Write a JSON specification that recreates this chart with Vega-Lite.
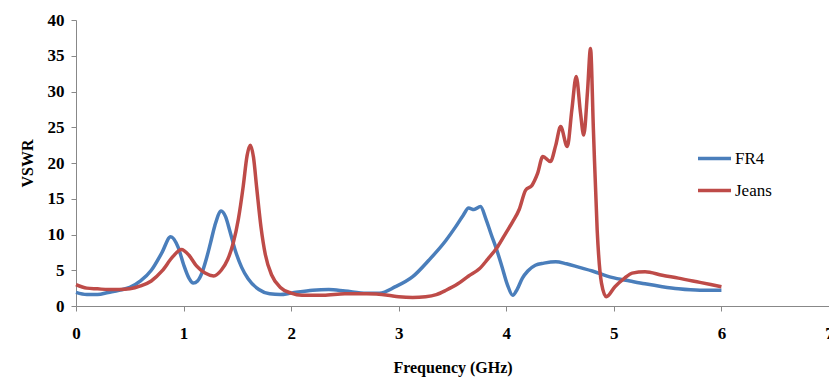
{
  "$schema": "https://vega.github.io/schema/vega-lite/v6.json",
  "autosize": {"type": "none"},
  "padding": {"left": 76, "top": 20, "right": 0, "bottom": 75},
  "width": 753,
  "height": 286,
  "background": "white",
  "config": {"view": {"stroke": null}, "font": "Liberation Serif"},
  "data": {"values": [
    {"f": 0.0, "v": 1.9, "s": "FR4"},
    {"f": 0.1, "v": 1.6, "s": "FR4"},
    {"f": 0.2, "v": 1.6, "s": "FR4"},
    {"f": 0.3, "v": 1.9, "s": "FR4"},
    {"f": 0.4, "v": 2.2, "s": "FR4"},
    {"f": 0.5, "v": 2.6, "s": "FR4"},
    {"f": 0.6, "v": 3.5, "s": "FR4"},
    {"f": 0.7, "v": 5.0, "s": "FR4"},
    {"f": 0.8, "v": 7.5, "s": "FR4"},
    {"f": 0.88, "v": 9.7, "s": "FR4"},
    {"f": 0.95, "v": 8.2, "s": "FR4"},
    {"f": 1.0, "v": 5.8, "s": "FR4"},
    {"f": 1.05, "v": 3.9, "s": "FR4"},
    {"f": 1.09, "v": 3.2, "s": "FR4"},
    {"f": 1.13, "v": 3.5, "s": "FR4"},
    {"f": 1.17, "v": 4.6, "s": "FR4"},
    {"f": 1.21, "v": 6.5, "s": "FR4"},
    {"f": 1.25, "v": 8.8, "s": "FR4"},
    {"f": 1.29, "v": 11.2, "s": "FR4"},
    {"f": 1.35, "v": 13.3, "s": "FR4"},
    {"f": 1.39, "v": 12.5, "s": "FR4"},
    {"f": 1.43, "v": 10.5, "s": "FR4"},
    {"f": 1.48, "v": 7.8, "s": "FR4"},
    {"f": 1.54, "v": 5.4, "s": "FR4"},
    {"f": 1.6, "v": 3.8, "s": "FR4"},
    {"f": 1.7, "v": 2.3, "s": "FR4"},
    {"f": 1.8, "v": 1.7, "s": "FR4"},
    {"f": 1.9, "v": 1.6, "s": "FR4"},
    {"f": 2.0, "v": 1.8, "s": "FR4"},
    {"f": 2.2, "v": 2.2, "s": "FR4"},
    {"f": 2.35, "v": 2.3, "s": "FR4"},
    {"f": 2.5, "v": 2.1, "s": "FR4"},
    {"f": 2.7, "v": 1.8, "s": "FR4"},
    {"f": 2.82, "v": 1.8, "s": "FR4"},
    {"f": 2.97, "v": 2.7, "s": "FR4"},
    {"f": 3.13, "v": 4.1, "s": "FR4"},
    {"f": 3.28, "v": 6.4, "s": "FR4"},
    {"f": 3.44, "v": 9.2, "s": "FR4"},
    {"f": 3.53, "v": 11.1, "s": "FR4"},
    {"f": 3.6, "v": 12.7, "s": "FR4"},
    {"f": 3.65, "v": 13.7, "s": "FR4"},
    {"f": 3.7, "v": 13.5, "s": "FR4"},
    {"f": 3.76, "v": 13.9, "s": "FR4"},
    {"f": 3.81, "v": 12.2, "s": "FR4"},
    {"f": 3.86, "v": 10.0, "s": "FR4"},
    {"f": 3.91, "v": 7.9, "s": "FR4"},
    {"f": 3.96, "v": 5.5, "s": "FR4"},
    {"f": 4.01, "v": 3.0, "s": "FR4"},
    {"f": 4.06, "v": 1.5, "s": "FR4"},
    {"f": 4.1, "v": 2.3, "s": "FR4"},
    {"f": 4.15, "v": 3.9, "s": "FR4"},
    {"f": 4.2, "v": 4.9, "s": "FR4"},
    {"f": 4.27, "v": 5.7, "s": "FR4"},
    {"f": 4.35, "v": 6.0, "s": "FR4"},
    {"f": 4.46, "v": 6.2, "s": "FR4"},
    {"f": 4.56, "v": 5.9, "s": "FR4"},
    {"f": 4.68, "v": 5.4, "s": "FR4"},
    {"f": 4.8, "v": 4.9, "s": "FR4"},
    {"f": 4.98, "v": 4.0, "s": "FR4"},
    {"f": 5.15, "v": 3.5, "s": "FR4"},
    {"f": 5.29, "v": 3.1, "s": "FR4"},
    {"f": 5.45, "v": 2.7, "s": "FR4"},
    {"f": 5.6, "v": 2.4, "s": "FR4"},
    {"f": 5.8, "v": 2.2, "s": "FR4"},
    {"f": 6.0, "v": 2.2, "s": "FR4"},
    {"f": 0.0, "v": 3.0, "s": "Jeans"},
    {"f": 0.1, "v": 2.5, "s": "Jeans"},
    {"f": 0.2, "v": 2.4, "s": "Jeans"},
    {"f": 0.3, "v": 2.3, "s": "Jeans"},
    {"f": 0.4, "v": 2.3, "s": "Jeans"},
    {"f": 0.5, "v": 2.4, "s": "Jeans"},
    {"f": 0.6, "v": 2.8, "s": "Jeans"},
    {"f": 0.7, "v": 3.5, "s": "Jeans"},
    {"f": 0.8, "v": 4.9, "s": "Jeans"},
    {"f": 0.9, "v": 6.9, "s": "Jeans"},
    {"f": 0.98, "v": 7.9, "s": "Jeans"},
    {"f": 1.05, "v": 7.1, "s": "Jeans"},
    {"f": 1.12, "v": 5.6, "s": "Jeans"},
    {"f": 1.2, "v": 4.6, "s": "Jeans"},
    {"f": 1.28, "v": 4.2, "s": "Jeans"},
    {"f": 1.35, "v": 5.0, "s": "Jeans"},
    {"f": 1.41, "v": 6.5, "s": "Jeans"},
    {"f": 1.46, "v": 8.7, "s": "Jeans"},
    {"f": 1.51, "v": 12.2, "s": "Jeans"},
    {"f": 1.555, "v": 16.8, "s": "Jeans"},
    {"f": 1.59, "v": 21.0, "s": "Jeans"},
    {"f": 1.62, "v": 22.5, "s": "Jeans"},
    {"f": 1.65, "v": 20.8, "s": "Jeans"},
    {"f": 1.68, "v": 16.5, "s": "Jeans"},
    {"f": 1.72, "v": 11.0, "s": "Jeans"},
    {"f": 1.76, "v": 7.2, "s": "Jeans"},
    {"f": 1.82, "v": 4.3, "s": "Jeans"},
    {"f": 1.9, "v": 2.6, "s": "Jeans"},
    {"f": 2.0, "v": 1.8, "s": "Jeans"},
    {"f": 2.1, "v": 1.5, "s": "Jeans"},
    {"f": 2.3, "v": 1.5, "s": "Jeans"},
    {"f": 2.5, "v": 1.7, "s": "Jeans"},
    {"f": 2.7, "v": 1.7, "s": "Jeans"},
    {"f": 2.9, "v": 1.5, "s": "Jeans"},
    {"f": 3.0, "v": 1.3, "s": "Jeans"},
    {"f": 3.13, "v": 1.2, "s": "Jeans"},
    {"f": 3.25, "v": 1.3, "s": "Jeans"},
    {"f": 3.35, "v": 1.6, "s": "Jeans"},
    {"f": 3.44, "v": 2.2, "s": "Jeans"},
    {"f": 3.55, "v": 3.1, "s": "Jeans"},
    {"f": 3.65, "v": 4.2, "s": "Jeans"},
    {"f": 3.75, "v": 5.2, "s": "Jeans"},
    {"f": 3.83, "v": 6.6, "s": "Jeans"},
    {"f": 3.92, "v": 8.3, "s": "Jeans"},
    {"f": 4.0, "v": 10.3, "s": "Jeans"},
    {"f": 4.06, "v": 11.8, "s": "Jeans"},
    {"f": 4.12, "v": 13.5, "s": "Jeans"},
    {"f": 4.18, "v": 16.2, "s": "Jeans"},
    {"f": 4.24, "v": 16.9, "s": "Jeans"},
    {"f": 4.29, "v": 18.5, "s": "Jeans"},
    {"f": 4.34, "v": 20.9, "s": "Jeans"},
    {"f": 4.41, "v": 20.2, "s": "Jeans"},
    {"f": 4.46, "v": 22.5, "s": "Jeans"},
    {"f": 4.505, "v": 25.1, "s": "Jeans"},
    {"f": 4.567, "v": 22.3, "s": "Jeans"},
    {"f": 4.61, "v": 27.5, "s": "Jeans"},
    {"f": 4.65, "v": 32.1, "s": "Jeans"},
    {"f": 4.69, "v": 27.0, "s": "Jeans"},
    {"f": 4.72, "v": 23.9, "s": "Jeans"},
    {"f": 4.755, "v": 30.0, "s": "Jeans"},
    {"f": 4.783, "v": 36.0, "s": "Jeans"},
    {"f": 4.81, "v": 24.6, "s": "Jeans"},
    {"f": 4.845, "v": 10.6, "s": "Jeans"},
    {"f": 4.885, "v": 3.2, "s": "Jeans"},
    {"f": 4.93, "v": 1.3, "s": "Jeans"},
    {"f": 5.01, "v": 2.7, "s": "Jeans"},
    {"f": 5.1, "v": 3.9, "s": "Jeans"},
    {"f": 5.17, "v": 4.6, "s": "Jeans"},
    {"f": 5.29, "v": 4.8, "s": "Jeans"},
    {"f": 5.45, "v": 4.3, "s": "Jeans"},
    {"f": 5.6, "v": 3.9, "s": "Jeans"},
    {"f": 5.8, "v": 3.3, "s": "Jeans"},
    {"f": 6.0, "v": 2.7, "s": "Jeans"}
  ]},
  "mark": {"type": "line", "strokeWidth": 3.5, "interpolate": "monotone"},
  "encoding": {
    "x": {
      "field": "f", "type": "quantitative",
      "scale": {"domain": [0, 7], "nice": false},
      "axis": {
        "title": "Frequency (GHz)", "values": [0,1,2,3,4,5,6,7], "format": "d",
        "grid": false, "domainColor": "#888888", "tickColor": "#888888", "tickSize": 5,
        "labelFont": "Liberation Serif", "labelFontSize": 17, "labelFontWeight": "bold", "labelColor": "#000000",
        "labelPadding": 14, "labelFlush": false, "labelOverlap": false,
        "titleFont": "Liberation Serif", "titleFontSize": 16, "titleFontWeight": "bold", "titleColor": "#000000",
        "titlePadding": 18
      }
    },
    "y": {
      "field": "v", "type": "quantitative",
      "scale": {"domain": [0, 40], "nice": false},
      "axis": {
        "title": "VSWR", "values": [0,5,10,15,20,25,30,35,40],
        "grid": false, "domainColor": "#888888", "tickColor": "#888888", "tickSize": 5,
        "labelFont": "Liberation Serif", "labelFontSize": 17, "labelFontWeight": "bold", "labelColor": "#000000",
        "labelPadding": 7,
        "titleFont": "Liberation Serif", "titleFontSize": 16, "titleFontWeight": "bold", "titleColor": "#000000",
        "titlePadding": 12
      }
    },
    "color": {
      "field": "s", "type": "nominal",
      "scale": {"domain": ["FR4", "Jeans"], "range": ["#4A7EBB", "#BE4B48"]},
      "legend": {
        "title": null, "orient": "none", "legendX": 620, "legendY": 120,
        "symbolType": "stroke", "symbolSize": 1089, "symbolStrokeWidth": 3.5,
        "labelFont": "Liberation Serif", "labelFontSize": 17, "labelColor": "#000000",
        "labelOffset": 2, "rowPadding": 5
      }
    }
  }
}
